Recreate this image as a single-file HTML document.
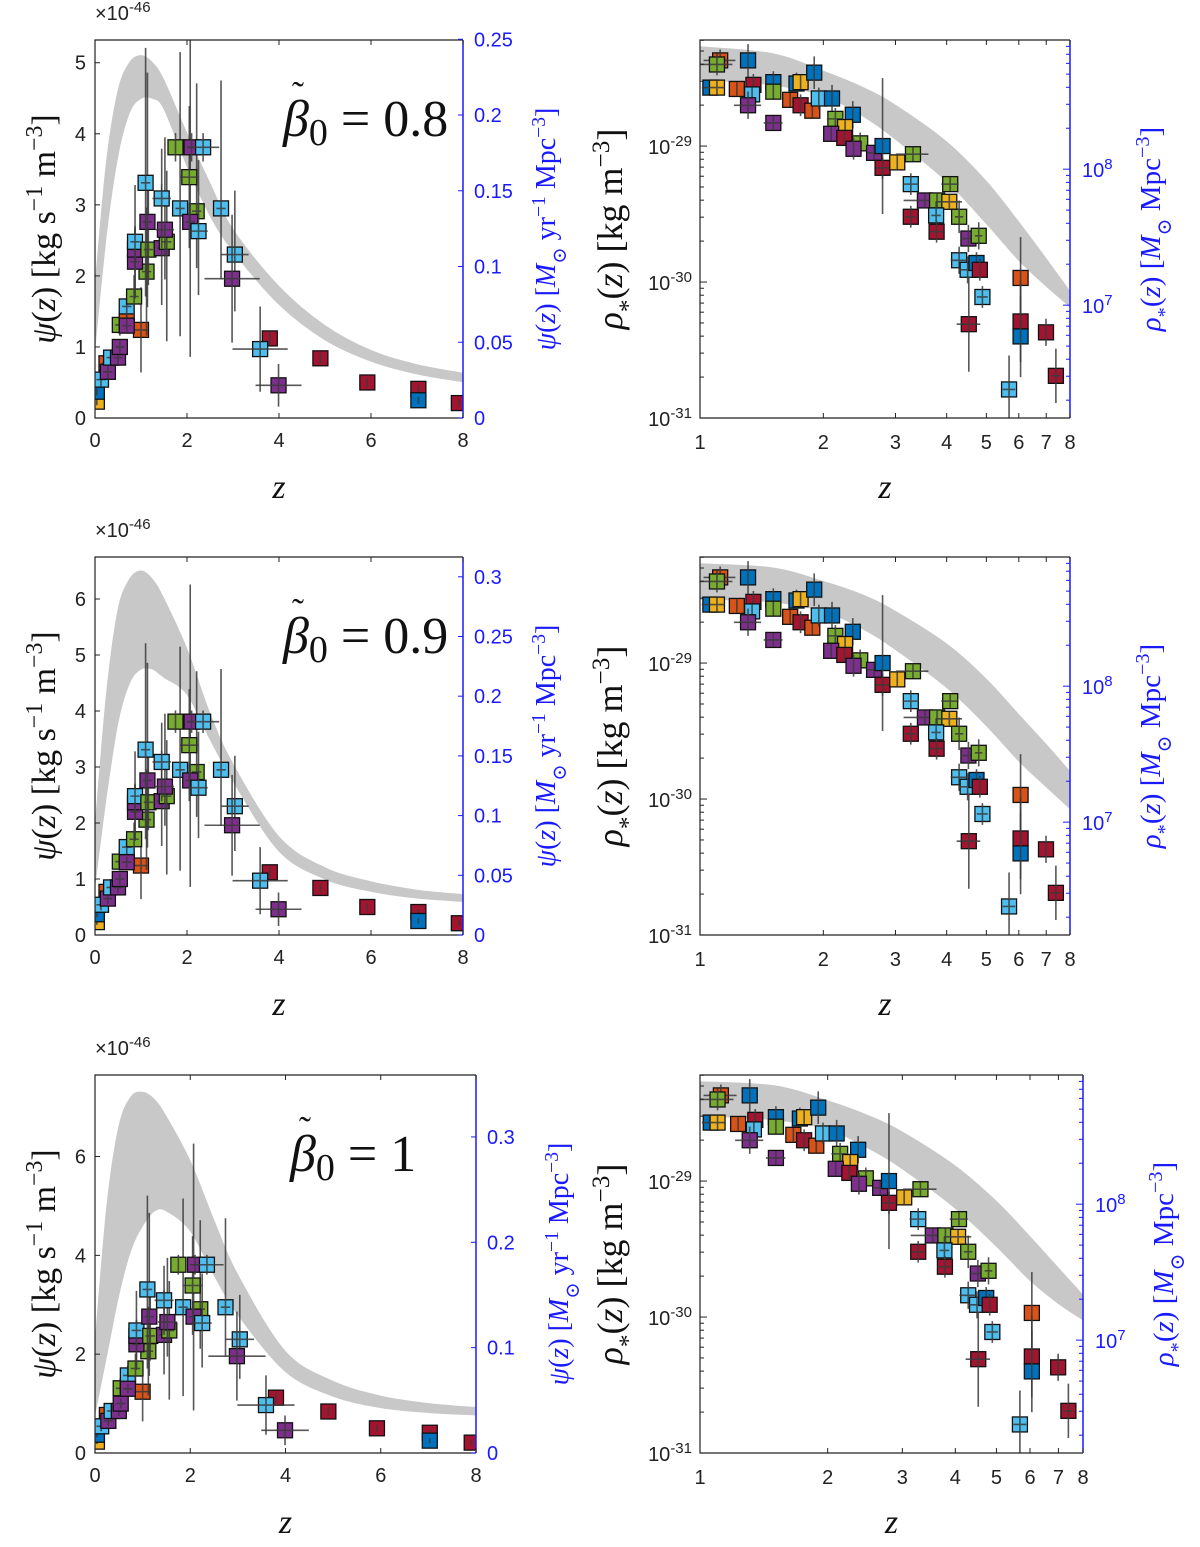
<!DOCTYPE html>
<html><head><meta charset="utf-8"><title>SFR density and stellar mass density</title>
<style>
html,body{margin:0;padding:0;background:#fff;}
svg{display:block;font-family:"Liberation Sans",sans-serif;}
.serif{font-family:"Liberation Serif","DejaVu Serif",serif;}
</style></head>
<body>
<svg id="fig" width="1200" height="1547" viewBox="0 0 1200 1547" xmlns="http://www.w3.org/2000/svg"></svg>
<script>
const COL = {O:'#d95319',R:'#a2142f',P:'#7e2f8e',G:'#77ac30',C:'#4dbeee',B:'#0072bd',Y:'#edb120'};

const leftZ   = [0.04,0.04,0.25,0.13,0.28,0.35,0.5,0.54,0.54,0.69,1.0,0.69,0.85,0.69,1.12,0.87,0.87,0.87,1.16,1.45,1.56,1.52,1.14,1.10,1.45,1.85,2.21,2.07,2.25,2.05,1.75,2.1,2.35,2.74,3.04,2.98,3.8,3.59,3.99,4.9,5.92,7.03,7.03,7.91];
const leftPsi = [0.23,0.37,0.77,0.54,0.65,0.85,0.85,1.0,1.31,1.36,1.24,1.57,1.71,1.3,2.06,2.2,2.37,2.48,2.37,2.39,2.48,2.65,2.76,3.31,3.09,2.95,2.91,2.76,2.63,3.39,3.81,3.81,3.81,2.95,2.3,1.96,1.12,0.97,0.46,0.84,0.5,0.41,0.25,0.21];
const leftCol = ['Y','B','O','C','P','C','P','P','G','O','O','C','G','P','G','P','P','C','G','P','G','P','P','C','C','C','G','P','C','G','G','P','C','C','C','P','R','C','P','R','R','R','B','R'];
const leftErrLo = [0.05,0.05,0.05,0.1,0.1,0.1,0.1,0.1,0.15,0.1,0.6,0.2,0.3,0.1,0.9,0.5,0.3,0.8,0.5,0.8,1.4,0.7,1.2,1.6,0.7,1.8,0.8,1.9,0.9,1.0,0.2,0.2,0.2,1.0,0.8,0.9,0.1,0.6,0.3,0.08,0.07,0.05,0.05,0.05];
const leftErrHi = [0.05,0.05,0.05,0.1,0.1,0.1,0.1,0.1,0.15,0.1,0.6,0.2,0.3,0.1,0.9,0.5,0.3,0.8,1.0,0.9,1.0,1.3,2.1,1.9,0.7,2.2,1.8,3.5,1.0,1.0,0.2,0.2,0.2,1.8,0.9,0.9,0.1,0.6,0.3,0.08,0.07,0.05,0.05,0.05];
const leftXErr  = [0,0,0.1,0.1,0.1,0.1,0.1,0.1,0.1,0.1,0.15,0.1,0.1,0.1,0.1,0.1,0.1,0.1,0.1,0.1,0.1,0.2,0.1,0.1,0.2,0.1,0.1,0.1,0.2,0.2,0,0.1,0.35,0.1,0.3,0.6,0,0.6,0.5,0,0,0,0,0];

const bandZ = [0,0.25,0.5,0.75,1,1.25,1.5,2,2.5,3,4,5,6,7,8];
const band1Up = [1.85,3.6,4.6,5.0,5.1,5.0,4.75,4.0,3.3,2.65,1.85,1.3,0.95,0.75,0.63];
const band1Lo = [1.0,2.6,3.7,4.3,4.5,4.5,4.35,3.55,2.85,2.35,1.6,1.1,0.8,0.62,0.51];
const band2Up = [1.9,4.3,5.8,6.35,6.5,6.35,6.0,5.1,3.95,3.05,1.75,1.2,0.95,0.8,0.72];
const band2Lo = [0.9,2.5,3.8,4.5,4.75,4.75,4.6,4.3,3.5,2.75,1.5,1.0,0.78,0.66,0.6];
const band3Up = [2.2,5.0,6.6,7.2,7.3,7.15,6.8,5.9,4.7,3.6,2.05,1.45,1.15,1.0,0.92];
const band3Lo = [0.8,2.0,3.2,4.1,4.6,4.9,4.9,4.5,3.6,2.8,1.65,1.15,0.92,0.82,0.77];

const rightZ  = [1.12,1.10,1.31,1.06,1.10,1.23,1.35,1.34,1.31,1.51,1.51,1.51,1.72,1.76,1.66,1.76,1.90,1.88,1.95,2.10,2.14,2.36,2.26,2.09,2.25,2.46,2.37,2.66,2.79,2.79,3.03,3.31,3.27,4.08,3.54,3.79,4.06,3.27,3.77,4.29,3.78,4.52,4.79,4.29,4.50,4.73,4.82,4.89,4.53,6.06,6.06,6.06,6.99,7.39,5.68];
const rightLg = [-28.37,-28.40,-28.37,-28.57,-28.57,-28.58,-28.55,-28.62,-28.70,-28.83,-28.53,-28.60,-28.54,-28.53,-28.66,-28.70,-28.46,-28.74,-28.65,-28.65,-28.80,-28.77,-28.86,-28.91,-28.94,-28.98,-29.02,-29.05,-29.00,-29.16,-29.12,-29.06,-29.28,-29.28,-29.40,-29.40,-29.41,-29.52,-29.51,-29.52,-29.63,-29.68,-29.66,-29.84,-29.91,-29.86,-29.91,-30.11,-30.31,-29.97,-30.29,-30.40,-30.37,-30.69,-30.79];
const rightCol = ['O','G','B','B','Y','O','R','C','P','P','B','G','B','Y','O','R','B','O','C','B','G','B','Y','P','R','G','P','P','B','R','Y','G','C','G','P','G','Y','R','C','G','R','P','G','C','C','B','R','C','R','O','R','B','R','R','C'];
const rightYErr = [0.08,0.08,0.12,0.05,0.05,0.05,0.08,0.05,0.1,0.05,0.08,0.05,0.08,0.05,0.05,0.08,0.12,0.05,0.08,0.1,0.08,0.1,0.05,0.05,0.05,0.08,0.08,0.05,0.5,0.08,0.05,0.05,0.08,0.05,0.05,0.05,0.05,0.08,0.1,0.12,0.08,0.1,0.1,0.1,0.1,0.08,0.08,0.08,0.35,0.3,0.3,0.3,0.1,0.2,0.25];
const rightXErr = [0.1,0.1,0,0.05,0.05,0,0,0,0.1,0.08,0,0,0,0,0,0,0,0,0,0,0.1,0,0,0,0,0,0,0.1,0,0.1,0,0.3,0.15,0.2,0.4,0,0.3,0.1,0.1,0.1,0.15,0.2,0.1,0.2,0.2,0,0,0.15,0.3,0,0,0,0,0.2,0.2];

const rBandZ  = [1,1.5,2,2.5,3,4,5,6,7,8];
const rBand1Up = [-28.27,-28.32,-28.45,-28.57,-28.70,-28.97,-29.26,-29.56,-29.83,-30.07];
const rBand1Lo = [-28.51,-28.55,-28.63,-28.78,-28.95,-29.26,-29.57,-29.84,-30.03,-30.18];
const rBand2Up = [-28.27,-28.30,-28.40,-28.50,-28.62,-28.86,-29.12,-29.38,-29.60,-29.80];
const rBand2Lo = [-28.53,-28.55,-28.62,-28.75,-28.90,-29.18,-29.46,-29.72,-29.91,-30.07];
const rBand3Up = [-28.27,-28.30,-28.41,-28.52,-28.64,-28.89,-29.15,-29.41,-29.64,-29.84];
const rBand3Lo = [-28.52,-28.55,-28.62,-28.76,-28.91,-29.20,-29.48,-29.73,-29.90,-30.02];

const leftTicksX = [0,2,4,6,8];
const leftTicksY1 = [0,1,2,3,4,5];
const leftTicksY2 = [0,1,2,3,4,5,6];
const leftTicksY3 = [0,2,4,6];
const blueTicks1 = ['0','0.05','0.1','0.15','0.2','0.25'];
const blueTicks2 = ['0','0.05','0.1','0.15','0.2','0.25','0.3'];
const blueTicks3 = ['0','0.1','0.2','0.3'];
const rightTicksX = [1,2,3,4,5,6,7,8];
const rightTicksY = [-31,-30,-29];
const blueRightTicks = [7,8];
const BLUE_FACTOR = 0.0469;
const MSUN_MPC3 = -37.17;
const betaLabels = ['0.8','0.9','1'];

const svg = document.getElementById('fig');
const NS = 'http://www.w3.org/2000/svg';
function mk(tag, attrs, parent){
  const e = document.createElementNS(NS, tag);
  for (const k in attrs) e.setAttribute(k, attrs[k]);
  (parent||svg).appendChild(e);
  return e;
}
function smoothPath(pts){
  let d = 'M'+pts[0][0]+','+pts[0][1];
  for (let i=0;i<pts.length-1;i++){
    const p0=pts[Math.max(0,i-1)],p1=pts[i],p2=pts[i+1],p3=pts[Math.min(pts.length-1,i+2)];
    const c1=[p1[0]+(p2[0]-p0[0])/6,p1[1]+(p2[1]-p0[1])/6];
    const c2=[p2[0]-(p3[0]-p1[0])/6,p2[1]-(p3[1]-p1[1])/6];
    d+=' C'+c1[0]+','+c1[1]+' '+c2[0]+','+c2[1]+' '+p2[0]+','+p2[1];
  }
  return d;
}
function bandPath(zs, up, lo, xs, ys){
  const U = zs.map((z,i)=>[xs(z),ys(up[i])]);
  const L = zs.map((z,i)=>[xs(z),ys(lo[i])]).reverse();
  let d = smoothPath(U);
  d += ' L'+L[0][0]+','+L[0][1] + smoothPath(L).slice(1).replace(/^[^C]*/,' ');
  return d+' Z';
}
function supText(parent, parts, attrs){
  const t = mk('text', attrs, parent);
  parts.forEach(p=>{
    const s = mk('tspan', {}, t);
    if (p.sup){ s.setAttribute('baseline-shift','super'); s.setAttribute('font-size', p.fs||'70%'); }
    if (p.sub){ s.setAttribute('baseline-shift','sub'); s.setAttribute('font-size', p.fs||'70%'); }
    if (p.dy!==undefined){ s.setAttribute('dy', p.dy); if(p.fs) s.setAttribute('font-size',p.fs); }
    if (p.it) s.setAttribute('font-style','italic');
    s.textContent = p.t;
  });
  return t;
}
function marker(g, x, y, c){
  const r = mk('rect',{x:x-7.5,y:y-7.5,width:15,height:15,fill:COL[c],stroke:'#111','stroke-width':1.3},g);
  
  
}

const leftBoxes = [{l:95,r:463,t:40,b:418,ymax:5.32},{l:95,r:463,t:557,b:935,ymax:6.75},{l:95,r:476,t:1075,b:1453,ymax:7.65}];
const leftBands = [[band1Up,band1Lo],[band2Up,band2Lo],[band3Up,band3Lo]];
const leftYT = [leftTicksY1,leftTicksY2,leftTicksY3];
const blueT = [blueTicks1,blueTicks2,blueTicks3];

leftBoxes.forEach((B,row)=>{
  const g = mk('g',{});
  
  
  const xs = z => B.l + z/8*(B.r-B.l);
  const ys = v => B.b - v/B.ymax*(B.b-B.t);
  const clipId='clipL'+row;
  const cp = mk('clipPath',{id:clipId},g); mk('rect',{x:B.l,y:B.t,width:B.r-B.l,height:B.b-B.t},cp);
  const band = mk('path',{d:bandPath(bandZ,leftBands[row][0],leftBands[row][1],xs,ys),fill:'#c8c8c8',stroke:'#c8c8c8','stroke-width':1,'clip-path':'url(#'+clipId+')'},g);
  
  
  const pg = mk('g',{'clip-path':'url(#'+clipId+')'},g);
  leftZ.forEach((z,i)=>{
    const x=xs(z), y=ys(leftPsi[i]);
    marker(pg,x,y,leftCol[i]);
    const eb = mk('path',{d:'M'+x+','+ys(leftPsi[i]-leftErrLo[i])+'V'+ys(leftPsi[i]+leftErrHi[i])+'M'+xs(Math.max(0,z-leftXErr[i]))+','+y+'H'+xs(z+leftXErr[i]),stroke:'#3a3a3a','stroke-width':1.6,fill:'none','stroke-opacity':0.85},pg);
    
    
  });
  mk('path',{d:'M'+B.r+','+B.t+'H'+B.l+'V'+B.b+'H'+B.r,stroke:'#222','stroke-width':1.2,fill:'none'},g);
  mk('line',{x1:B.r,y1:B.t,x2:B.r,y2:B.b,stroke:'#1a1aff','stroke-width':1.5},g);
  leftTicksX.forEach(v=>{
    const x=xs(v);
    mk('line',{x1:x,y1:B.b,x2:x,y2:B.b-5,stroke:'#222'},g);
    mk('line',{x1:x,y1:B.t,x2:x,y2:B.t+5,stroke:'#222'},g);
    const t=mk('text',{x:x,y:B.b+29,'text-anchor':'middle','font-size':20,fill:'#222'},g); t.textContent=v;
  });
  leftYT[row].forEach(v=>{
    const y=ys(v);
    mk('line',{x1:B.l,y1:y,x2:B.l+5,y2:y,stroke:'#222'},g);
    const t=mk('text',{x:B.l-9,y:y+7,'text-anchor':'end','font-size':20,fill:'#222'},g); t.textContent=v;
  });
  blueT[row].forEach(s=>{
    const y=ys(parseFloat(s)/BLUE_FACTOR);
    mk('line',{x1:B.r,y1:y,x2:B.r-5,y2:y,stroke:'#1a1aff'},g);
    const t=mk('text',{x:B.r+11,y:y+7,'font-size':20,fill:'#1a1aff'},g); t.textContent=s;
  });
  supText(g,[{t:'×10'},{t:'-46',sup:true,fs:15}],{x:B.l,y:B.t-20,'font-size':20,fill:'#222'});
  const xl = mk('text',{x:(B.l+B.r)/2,y:B.b+80,'text-anchor':'middle','font-size':34,'font-style':'italic',class:'serif',fill:'#111'},g);
  xl.textContent='z';
   
  const cy=(B.t+B.b)/2;
  const yl = supText(g,[{t:'ψ',it:true},{t:'('},{t:'z',it:true},{t:') [kg s'},{t:'−1',sup:true},{t:' m'},{t:'−3',sup:true},{t:']'}],
    {x:0,y:0,transform:'translate(55,'+cy+') rotate(-90)','text-anchor':'middle','font-size':34,class:'serif',fill:'#111'});
   
  const bl = supText(g,[{t:'ψ',it:true},{t:'('},{t:'z',it:true},{t:') ['},{t:'M',it:true},{t:'⊙',sub:true},{t:' yr'},{t:'−1',sup:true},{t:' Mpc'},{t:'−3',sup:true},{t:']'}],
    {x:0,y:0,transform:'translate('+(B.r+92)+','+cy+') rotate(-90)','text-anchor':'middle','font-size':28,class:'serif',fill:'#1a1aff'});
   
  const bx = row==2 ? 290 : 283, by = B.t+96;
  const bt = supText(g,[{t:'β',it:true},{t:'0',dy:9,fs:38},{t:' = '+betaLabels[row],dy:-9,fs:52}],{x:bx,y:by,'font-size':52,class:'serif',fill:'#111'});
   
  const tl = mk('text',{x:bx+9,y:by-30,'font-size':36,class:'serif',fill:'#111'},g); tl.textContent='˜';
});

const rightBoxes = [{l:700,r:1070,t:40,b:418},{l:700,r:1070,t:557,b:935},{l:700,r:1083,t:1075,b:1453}];
const rightBands = [[rBand1Up,rBand1Lo],[rBand2Up,rBand2Lo],[rBand3Up,rBand3Lo]];
rightBoxes.forEach((B,row)=>{
  const g = mk('g',{});
  
  
  const xs = z => B.l + Math.log2(z)/3*(B.r-B.l);
  const ys = lg => B.b - (lg+31)/2.78*(B.b-B.t);
  const clipId='clipR'+row;
  const cp = mk('clipPath',{id:clipId},g); mk('rect',{x:B.l,y:B.t,width:B.r-B.l,height:B.b-B.t},cp);
  const band = mk('path',{d:bandPath(rBandZ,rightBands[row][0],rightBands[row][1],xs,ys),fill:'#c8c8c8',stroke:'#c8c8c8','stroke-width':1,'clip-path':'url(#'+clipId+')'},g);
  
  
  const pg = mk('g',{'clip-path':'url(#'+clipId+')'},g);
  rightZ.forEach((z,i)=>{
    const x=xs(z), y=ys(rightLg[i]);
    marker(pg,x,y,rightCol[i]);
    const xe = Math.max(rightXErr[i],0.001);
    const eb = mk('path',{d:'M'+x+','+ys(rightLg[i]-rightYErr[i])+'V'+ys(rightLg[i]+rightYErr[i])+'M'+xs(Math.max(0.9,z-xe))+','+y+'H'+xs(z+xe),stroke:'#3a3a3a','stroke-width':1.6,fill:'none','stroke-opacity':0.85},pg);
    
    
  });
  mk('path',{d:'M'+B.r+','+B.t+'H'+B.l+'V'+B.b+'H'+B.r,stroke:'#222','stroke-width':1.2,fill:'none'},g);
  mk('line',{x1:B.r,y1:B.t,x2:B.r,y2:B.b,stroke:'#1a1aff','stroke-width':1.5},g);
  rightTicksX.forEach(v=>{
    const x=xs(v);
    mk('line',{x1:x,y1:B.b,x2:x,y2:B.b-5,stroke:'#222'},g);
    mk('line',{x1:x,y1:B.t,x2:x,y2:B.t+5,stroke:'#222'},g);
    const t=mk('text',{x:x,y:B.b+31,'text-anchor':'middle','font-size':20,fill:'#222'},g); t.textContent=v;
  });
  rightTicksY.forEach(d=>{
    const y=ys(d);
    mk('line',{x1:B.l,y1:y,x2:B.l+7,y2:y,stroke:'#222'},g);
    supText(g,[{t:'10'},{t:String(d),sup:true,fs:15}],{x:B.l-8,y:y+8,'text-anchor':'end','font-size':20,fill:'#222'});
    for(let m=2;m<10;m++){
      const yy=ys(d+Math.log10(m)); if(yy<B.t) break;
      mk('line',{x1:B.l,y1:yy,x2:B.l+4,y2:yy,stroke:'#222'},g);
    }
  });
  blueRightTicks.forEach(p=>{
    const y=ys(p+MSUN_MPC3);
    mk('line',{x1:B.r,y1:y,x2:B.r-7,y2:y,stroke:'#1a1aff'},g);
    supText(g,[{t:'10'},{t:String(p),sup:true,fs:15}],{x:B.r+12,y:y+8,'font-size':20,fill:'#1a1aff'});
    for(let m=2;m<10;m++){
      const yy=ys(p+MSUN_MPC3+Math.log10(m));
      if(yy>B.t) mk('line',{x1:B.r,y1:yy,x2:B.r-4,y2:yy,stroke:'#1a1aff'},g);
      const yl2=ys(p-1+MSUN_MPC3+Math.log10(m));
      if(yl2<B.b && p==7) mk('line',{x1:B.r,y1:yl2,x2:B.r-4,y2:yl2,stroke:'#1a1aff'},g);
    }
  });
  const xl = mk('text',{x:(B.l+B.r)/2,y:B.b+80,'text-anchor':'middle','font-size':34,'font-style':'italic',class:'serif',fill:'#111'},g);
  xl.textContent='z';
   
  const cy=(B.t+B.b)/2;
  const yl = supText(g,[{t:'ρ',it:true},{t:'*',sub:true},{t:'('},{t:'z',it:true},{t:') [kg m'},{t:'−3',sup:true},{t:']'}],
    {x:0,y:0,transform:'translate(622,'+cy+') rotate(-90)','text-anchor':'middle','font-size':36,class:'serif',fill:'#111'});
   
  const bl = supText(g,[{t:'ρ',it:true},{t:'*',sub:true},{t:'('},{t:'z',it:true},{t:') ['},{t:'M',it:true},{t:'⊙',sub:true},{t:' Mpc'},{t:'−3',sup:true},{t:']'}],
    {x:0,y:0,transform:'translate('+(B.r+90)+','+cy+') rotate(-90)','text-anchor':'middle','font-size':29,class:'serif',fill:'#1a1aff'});
   
});
</script>
</body></html>
